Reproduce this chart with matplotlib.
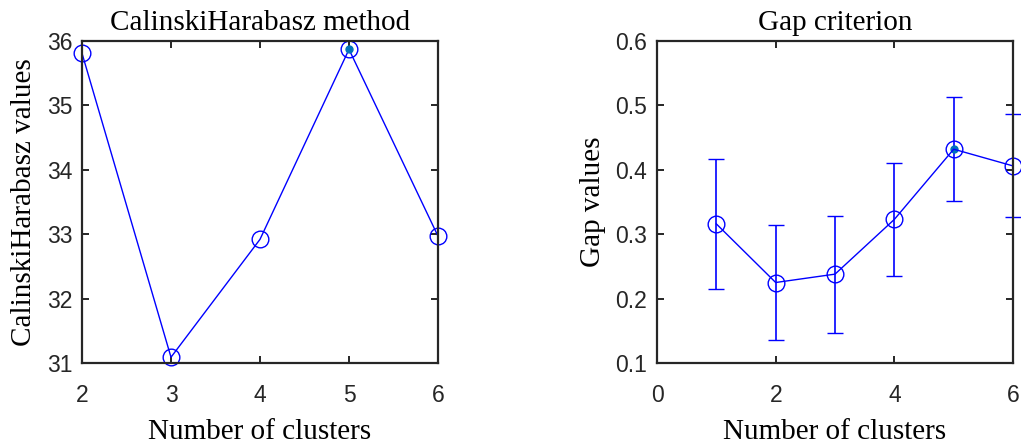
import numpy as np
import matplotlib.pyplot as plt

# CalinskiHarabasz values per number of clusters
ch_k = [2, 3, 4, 5, 6]
ch_vals = [35.81, 31.09, 32.92, 35.87, 32.97]
ch_best = 5

# Gap criterion values with standard errors
gap_k = [1, 2, 3, 4, 5, 6]
gap_vals = [0.316, 0.225, 0.238, 0.323, 0.432, 0.406]
gap_err = [0.101, 0.089, 0.091, 0.088, 0.081, 0.080]
gap_best = 5

blue = (0, 0, 1)
dot = '#0072BD'
spine = '#262626'
serif = 'Liberation Serif'

plt.rcParams['font.family'] = 'Liberation Sans'

fig = plt.figure(figsize=(10.21, 4.44), dpi=100)
ax1 = fig.add_axes([0.0803, 0.1824, 0.3487, 0.7253])
ax2 = fig.add_axes([0.6435, 0.1824, 0.3487, 0.7253])

def style(ax):
    for s in ax.spines.values():
        s.set_color(spine)
        s.set_linewidth(1.6)
    ax.tick_params(direction='in', top=True, right=True, length=5, width=1.4,
                   color=spine, labelsize=16.5, labelcolor=spine)
    ax.tick_params(axis='x', pad=15)
    ax.tick_params(axis='y', pad=7)

# left: CalinskiHarabasz
ax1.plot(ch_k, ch_vals, '-o', color=blue, lw=1, mfc='none', ms=12, mew=1, clip_on=False)
ax1.plot([ch_best], [ch_vals[ch_k.index(ch_best)]], 'o', color=dot, ms=5, clip_on=False)
ax1.set_xlim(2, 6)
ax1.set_ylim(31, 36)
ax1.set_xticks([2, 3, 4, 5, 6])
ax1.set_yticks([31, 32, 33, 34, 35, 36])
ax1.set_title('CalinskiHarabasz method', fontfamily=serif, fontsize=21, pad=8)
ax1.set_xlabel('Number of clusters', fontfamily=serif, fontsize=21, labelpad=9)
ax1.set_ylabel('CalinskiHarabasz values', fontfamily=serif, fontsize=21, labelpad=7)
style(ax1)

# right: Gap criterion
ax2.errorbar(gap_k, gap_vals, yerr=gap_err, fmt='-o', color=blue, lw=1, elinewidth=1.2,
             capsize=6, capthick=1.2, mfc='none', ms=12, mew=1, clip_on=False)
ax2.plot([gap_best], [gap_vals[gap_k.index(gap_best)]], 'o', color=dot, ms=5, clip_on=False)
ax2.set_xlim(0, 6)
ax2.set_ylim(0.1, 0.6)
ax2.set_xticks([0, 2, 4, 6])
ax2.set_yticks([0.1, 0.2, 0.3, 0.4, 0.5, 0.6])
ax2.set_title('Gap criterion', fontfamily=serif, fontsize=21, pad=8)
ax2.set_xlabel('Number of clusters', fontfamily=serif, fontsize=21, labelpad=9)
ax2.set_ylabel('Gap values', fontfamily=serif, fontsize=21, labelpad=7)
style(ax2)

plt.savefig('out.png', dpi=100)
